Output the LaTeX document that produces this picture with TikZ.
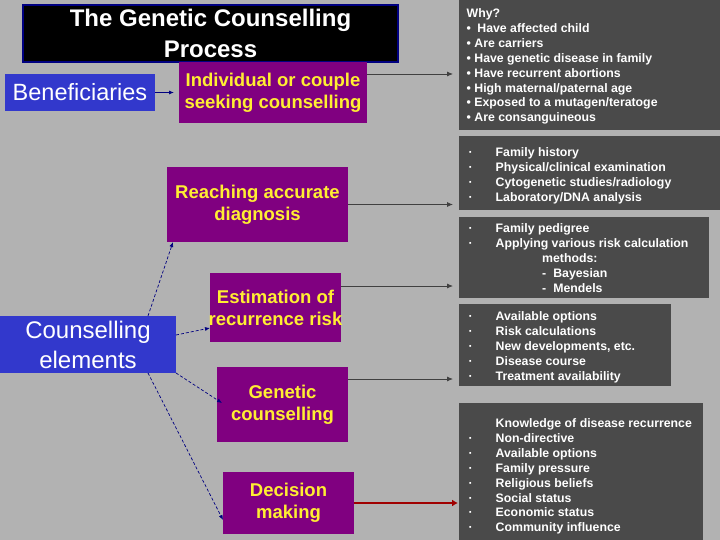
\documentclass[tikz,border=0pt]{standalone}
\usepackage{fontspec}
\setmainfont{Liberation Sans}
\usetikzlibrary{arrows.meta,calc}
\definecolor{bg}{RGB}{178,178,178}
\definecolor{dark}{RGB}{74,74,74}
\definecolor{purp}{RGB}{128,0,128}
\definecolor{yel}{RGB}{255,238,50}
\definecolor{blu}{RGB}{50,56,204}
\definecolor{navy}{RGB}{0,0,128}
\definecolor{dred}{RGB}{160,0,0}
\begin{document}
\begin{tikzpicture}[x=1pt,y=-1pt,
  box/.style={anchor=north west, inner sep=0pt, outer sep=0pt},
  pbox/.style={box, fill=purp, text=yel, align=center,
    font=\bfseries\fontsize{18.5}{22}\selectfont},
  bbox/.style={box, fill=blu, text=white, align=center},
  dbox/.style={box, fill=dark},
  dtext/.style={anchor=north west, inner sep=0pt, text=white, align=left,
    font=\bfseries\fontsize{12.3}{14.9}\selectfont},
  rarrow/.style={draw=black!75, line width=0.8pt, -{Latex[length=6pt,width=5pt]}},
  darrow/.style={draw=navy, line width=0.7pt, dash pattern=on 3pt off 2pt,
    -{Latex[length=5pt,width=4pt]}},
  redarrow/.style={draw=dred, line width=2.5pt, -{Latex[length=6pt,width=7pt]}},
  barrow/.style={draw=navy, line width=0.8pt, -{Latex[length=5pt,width=4pt]}}
]
\fill[bg] (0,0) rectangle (720,540);
\useasboundingbox (0,0) rectangle (720,540);

% title
\node[box, fill=black, draw=navy, line width=1.2pt, minimum width=375pt,
  minimum height=57pt, text=white, align=center,
  font=\bfseries\fontsize{24}{31}\selectfont] (title) at (23,5)
  {The Genetic Counselling\\Process};

% blue boxes
\node[bbox, minimum width=150pt, minimum height=37pt,
  font=\fontsize{23.5}{28}\selectfont] (ben) at (5,74) {Beneficiaries};
\node[bbox, minimum width=176pt, minimum height=57pt,
  font=\fontsize{24}{30}\selectfont] (ce) at (0,316) {Counselling\\elements};

% purple boxes
\node[pbox, minimum width=188pt, minimum height=61pt] (ind) at (179,62)
  {Individual or couple\\seeking counselling};
\node[pbox, minimum width=181pt, minimum height=75pt] (rd) at (167,167)
  {Reaching accurate\\diagnosis};
\node[pbox, minimum width=131pt, minimum height=69pt] (er) at (210,273)
  {Estimation of\\\makebox[125pt]{recurrence risk}};
\node[pbox, minimum width=131pt, minimum height=75pt] (gc) at (217,367)
  {Genetic\\counselling};
\node[pbox, minimum width=131pt, minimum height=62pt] (dm) at (223,472)
  {Decision\\making};

% dark boxes
\node[dbox, minimum width=261pt, minimum height=130pt] (why) at (459,0) {};
\node[dbox, minimum width=261pt, minimum height=74pt] (fh) at (459,136) {};
\node[dbox, minimum width=250pt, minimum height=81pt] (fp) at (459,217) {};
\node[dbox, minimum width=212pt, minimum height=82pt] (ao) at (459,304) {};
\node[dbox, minimum width=244pt, minimum height=137pt] (kd) at (459,403) {};

\node[dtext] (whyt) at (466.5,8.4) {Why?\\
  •\hspace{3pt} Have affected child\\
  • Are carriers\\
  • Have genetic disease in family\\
  • Have recurrent abortions\\
  • High maternal/paternal age\\
  • Exposed to a mutagen/teratoge\\
  • Are consanguineous};
\node[dtext] (fht) at (468.5,147.4) {%
  \makebox[27pt][l]{·}Family history\\
  \makebox[27pt][l]{·}Physical/clinical examination\\
  \makebox[27pt][l]{·}Cytogenetic studies/radiology\\
  \makebox[27pt][l]{·}Laboratory/DNA analysis};
\node[dtext] (fpt) at (468.5,223.4) {%
  \makebox[27pt][l]{·}Family pedigree\\
  \makebox[27pt][l]{·}Applying various risk calculation\\
  \makebox[73.5pt][l]{}methods:\\
  \makebox[73.5pt][l]{}-\hspace{7pt}Bayesian\\
  \makebox[73.5pt][l]{}-\hspace{7pt}Mendels};
\node[dtext] (aot) at (468.5,311.4) {%
  \makebox[27pt][l]{·}Available options\\
  \makebox[27pt][l]{·}Risk calculations\\
  \makebox[27pt][l]{·}New developments, etc.\\
  \makebox[27pt][l]{·}Disease course\\
  \makebox[27pt][l]{·}Treatment availability};
\node[dtext] (kdt) at (468.5,418.4) {%
  \makebox[27pt][l]{}Knowledge of disease recurrence\\
  \makebox[27pt][l]{·}Non-directive\\
  \makebox[27pt][l]{·}Available options\\
  \makebox[27pt][l]{·}Family pressure\\
  \makebox[27pt][l]{·}Religious beliefs\\
  \makebox[27pt][l]{·}Social status\\
  \makebox[27pt][l]{·}Economic status\\
  \makebox[27pt][l]{·}Community influence};

% connectors
\draw[barrow, shorten >=5pt] (ben.east) -- (ind.west |- ben.east);
\draw[rarrow, shorten >=6pt] ([yshift=-12pt]ind.north east) coordinate (a1) -- (a1 -| why.west);
\draw[rarrow, shorten >=6pt] (rd.east) -- (rd.east -| fh.west);
\draw[rarrow, shorten >=6pt] ([yshift=-13pt]er.north east) coordinate (a2) -- (a2 -| fp.west);
\draw[rarrow, shorten >=6pt] ([yshift=-12pt]gc.north east) coordinate (a3) -- (a3 -| ao.west);
\draw[redarrow, shorten >=1pt] ([yshift=-31pt]dm.north east) coordinate (a4) -- (a4 -| kd.west);

\draw[darrow] ([xshift=148pt]ce.north west) -- ([xshift=6pt]rd.south west);
\draw[darrow] ([yshift=-19pt]ce.north east) -- ([yshift=-55pt]er.north west);
\draw[darrow] (ce.south east) -- ([xshift=5pt,yshift=-36pt]gc.north west);
\draw[darrow] ([xshift=148pt]ce.south west) -- ([yshift=-48pt]dm.north west);
\end{tikzpicture}
\end{document}
